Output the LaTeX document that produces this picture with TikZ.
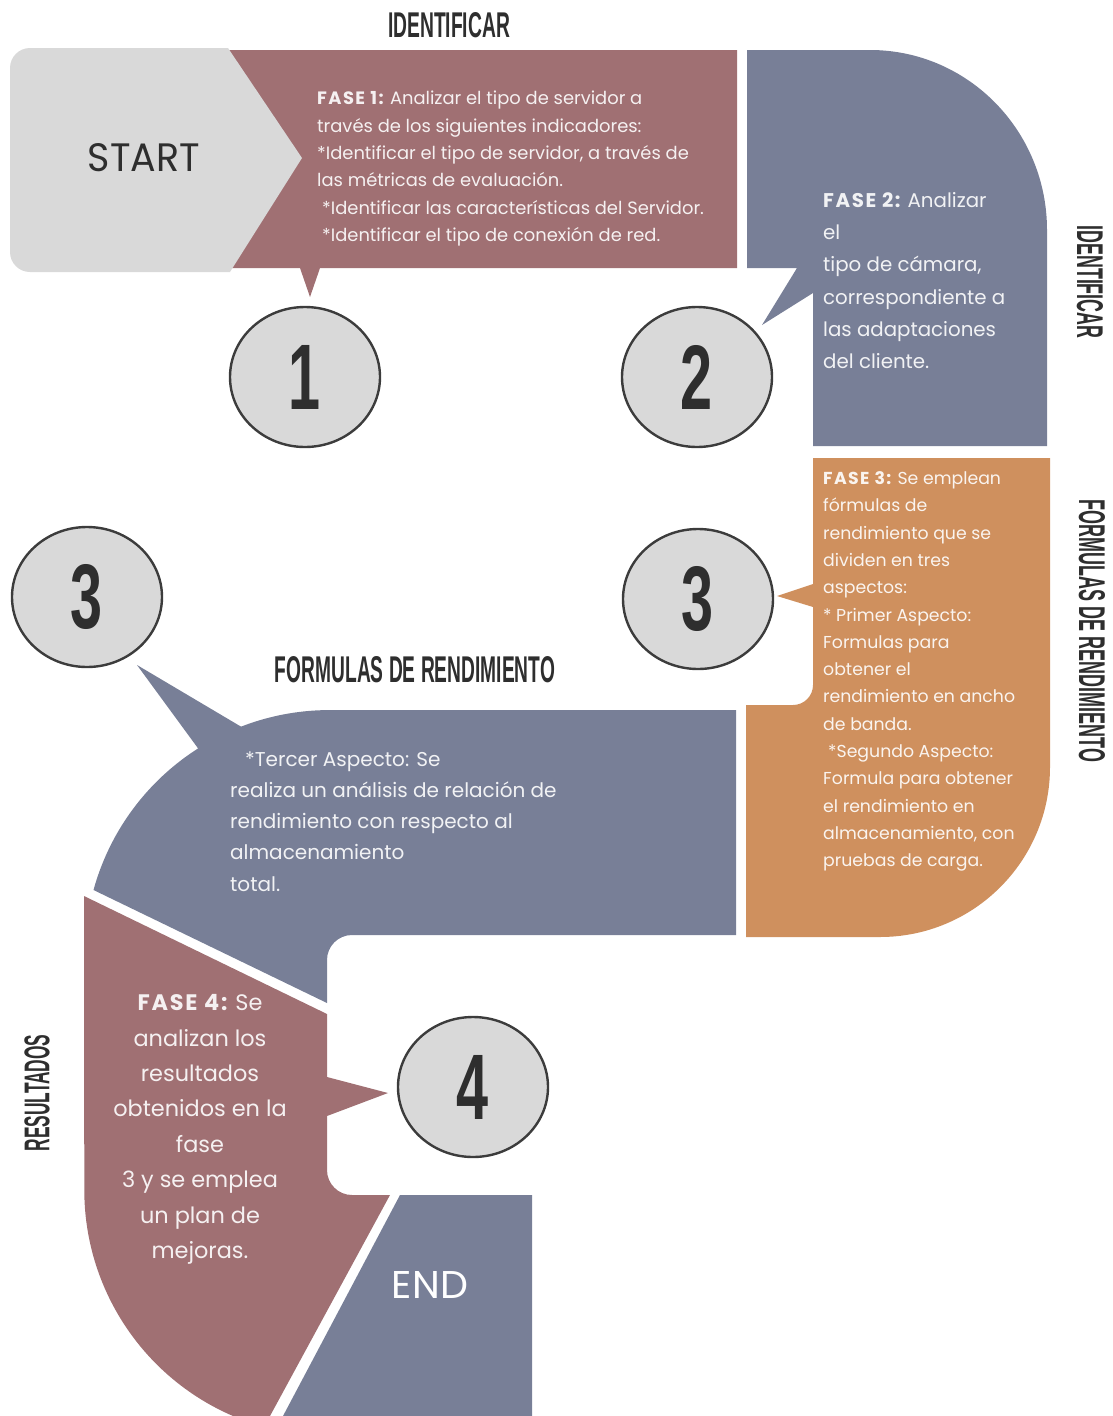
\documentclass[tikz,border=0pt]{standalone}
\usepackage{fontspec}
\setmainfont{Poppins}
\newfontfamily\titlefont{Liberation Sans}
\usetikzlibrary{shapes.geometric}
\definecolor{cmauve}{HTML}{A07073}
\definecolor{cblue}{HTML}{787F97}
\definecolor{corange}{HTML}{CF905E}
\definecolor{cgray}{HTML}{D9D9D9}
\definecolor{cdark}{HTML}{2E2E2E}
\definecolor{cring}{HTML}{3C3C3C}
\tikzset{
  numcircle/.style={ellipse, fill=cgray, draw=cring, line width=2.4pt,
    minimum width=150pt, minimum height=140pt, inner sep=0pt, text=cdark, font=\titlefont\bfseries},
  title/.style={inner sep=0pt, text=cdark, font=\titlefont\bfseries},
  body/.style={inner sep=0pt, anchor=north west, align=left, text=white, text opacity=0.9},
}
\newcommand{\numtxt}[1]{\resizebox{32pt}{64pt}{#1}}
\newcommand{\fase}[1]{{\addfontfeatures{LetterSpace=8}\bfseries\textcolor{white}{#1}}}
\begin{document}
\begin{tikzpicture}[x=1pt,y=-1pt]
\useasboundingbox (0,0) rectangle (1113,1416);
% FASE 1 band
\fill[cmauve] (200,50) -- (737,50) -- (737,268) -- (320,268) -- (310,297) -- (300,268) -- (200,268) -- cycle;
% START chevron
\fill[cgray] (228,48) -- (30,48) arc[start angle=270, end angle=180, radius=20] -- (10,252)
  arc[start angle=180, end angle=90, radius=20] -- (230,272) -- (302,158) -- cycle;
% FASE 2 band
\fill[cblue] (747,50) -- (870,50) arc[start angle=270, end angle=360, x radius=177, y radius=180]
  -- (1047,446) -- (813,446) -- (813,293) -- (762,325) -- (797,268) -- (747,268) -- cycle;
% FASE 3 band
\fill[corange] (813,458) -- (1050,458) -- (1050,767) arc[start angle=0, end angle=90, radius=170]
  -- (746,937) -- (746,705) -- (793,705) arc[start angle=90, end angle=0, radius=20]
  -- (813,607) -- (777,596) -- (813,584) -- cycle;
% Tercer aspecto band
\fill[cblue] (736,710) -- (736,935) -- (352,935) arc[start angle=270, end angle=180, radius=25]
  -- (327,1003) -- (93.5,890) arc[start angle=195.4, end angle=270, radius=245] -- cycle;
\fill[cblue] (137,665) -- (245,729) -- (200,751) -- cycle;
% FASE 4 band
\fill[cmauve] (84,896) -- (327,1014) -- (327,1077) -- (388,1093) -- (327,1116) -- (327,1170)
  arc[start angle=180, end angle=90, radius=25] -- (390,1195) -- (270,1416) -- (233,1416)
  arc[start angle=113.3, end angle=180, radius=246] -- cycle;
% END band
\fill[cblue] (400,1195) -- (532,1195) -- (532,1416) -- (283,1416) -- cycle;

% number circles
\node[numcircle] (c1) at (305,377) {\numtxt{1}};
\node[numcircle] (c2) at (697,377) {\numtxt{2}};
\node[numcircle] (c3r) at (698,599) {\numtxt{3}};
\node[numcircle] (c3l) at (87,597) {\numtxt{3}};
\node[numcircle] (c4) at (473,1087) {\numtxt{4}};

% titles
\node[title] (h1) at (449,25) {\resizebox{122pt}{25pt}{IDENTIFICAR}};
\node[title, rotate=-90] (h2) at (1090,282) {\resizebox{113pt}{26pt}{IDENTIFICAR}};
\node[title, rotate=-90] (h3) at (1092,631) {\resizebox{262pt}{26pt}{FORMULAS DE RENDIMIENTO}};
\node[title] (h4) at (415,670) {\resizebox{280pt}{26pt}{FORMULAS DE RENDIMIENTO}};
\node[title, rotate=90] (h5) at (37,1093) {\resizebox{117pt}{25pt}{RESULTADOS}};

\node[inner sep=0pt, text=cdark] (start) at (144,158) {\resizebox{112pt}{28pt}{START}};
\node[inner sep=0pt, text=white] (end) at (430,1285) {\resizebox{76pt}{27pt}{END}};

% body texts
\node[body, font=\fontsize{17.9}{27.4}\selectfont] (t1) at (317,86.5)
  {\rule{0pt}{17.9pt}\fase{FASE 1:} Analizar el tipo de servidor a\\
   través de los siguientes indicadores:\\
   *Identificar el tipo de servidor, a través de\\
   las métricas de evaluación.\\
   \hspace*{5pt}*Identificar las características del Servidor.\\
   \hspace*{5pt}*Identificar el tipo de conexión de red.};
\node[body, font=\fontsize{19.8}{32.2}\selectfont] (t2) at (823,187.5)
  {\rule{0pt}{19.8pt}\fase{FASE 2:} Analizar\\ el\\ tipo de cámara,\\ correspondiente a\\
   las adaptaciones\\ del cliente.};
\node[body, font=\fontsize{17.3}{27.3}\selectfont] (t3) at (823,467)
  {\rule{0pt}{17.3pt}\fase{FASE 3:} Se emplean\\ fórmulas de\\ rendimiento que se\\ dividen en tres\\
   aspectos:\\ * Primer Aspecto:\\ Formulas para\\ obtener el\\ rendimiento en ancho\\ de banda.\\
   \hspace*{5pt}*Segundo Aspecto:\\ Formula para obtener\\ el rendimiento en\\ almacenamiento, con\\
   pruebas de carga.};
\node[body, font=\fontsize{20}{31.2}\selectfont] (t4) at (230,746)
  {\rule{0pt}{20pt}\hspace*{15pt}*Tercer Aspecto: Se\\ realiza un análisis de relación de\\
   rendimiento con respecto al\\ almacenamiento\\ total.};
\node[body, anchor=north, align=center, font=\fontsize{22.4}{35.4}\selectfont] (t5) at (200,988)
  {\rule{0pt}{22.4pt}\fase{FASE 4:} Se\\ analizan los\\ resultados\\ obtenidos en la\\ fase\\
   3 y se emplea\\ un plan de\\ mejoras.};
\end{tikzpicture}
\end{document}
